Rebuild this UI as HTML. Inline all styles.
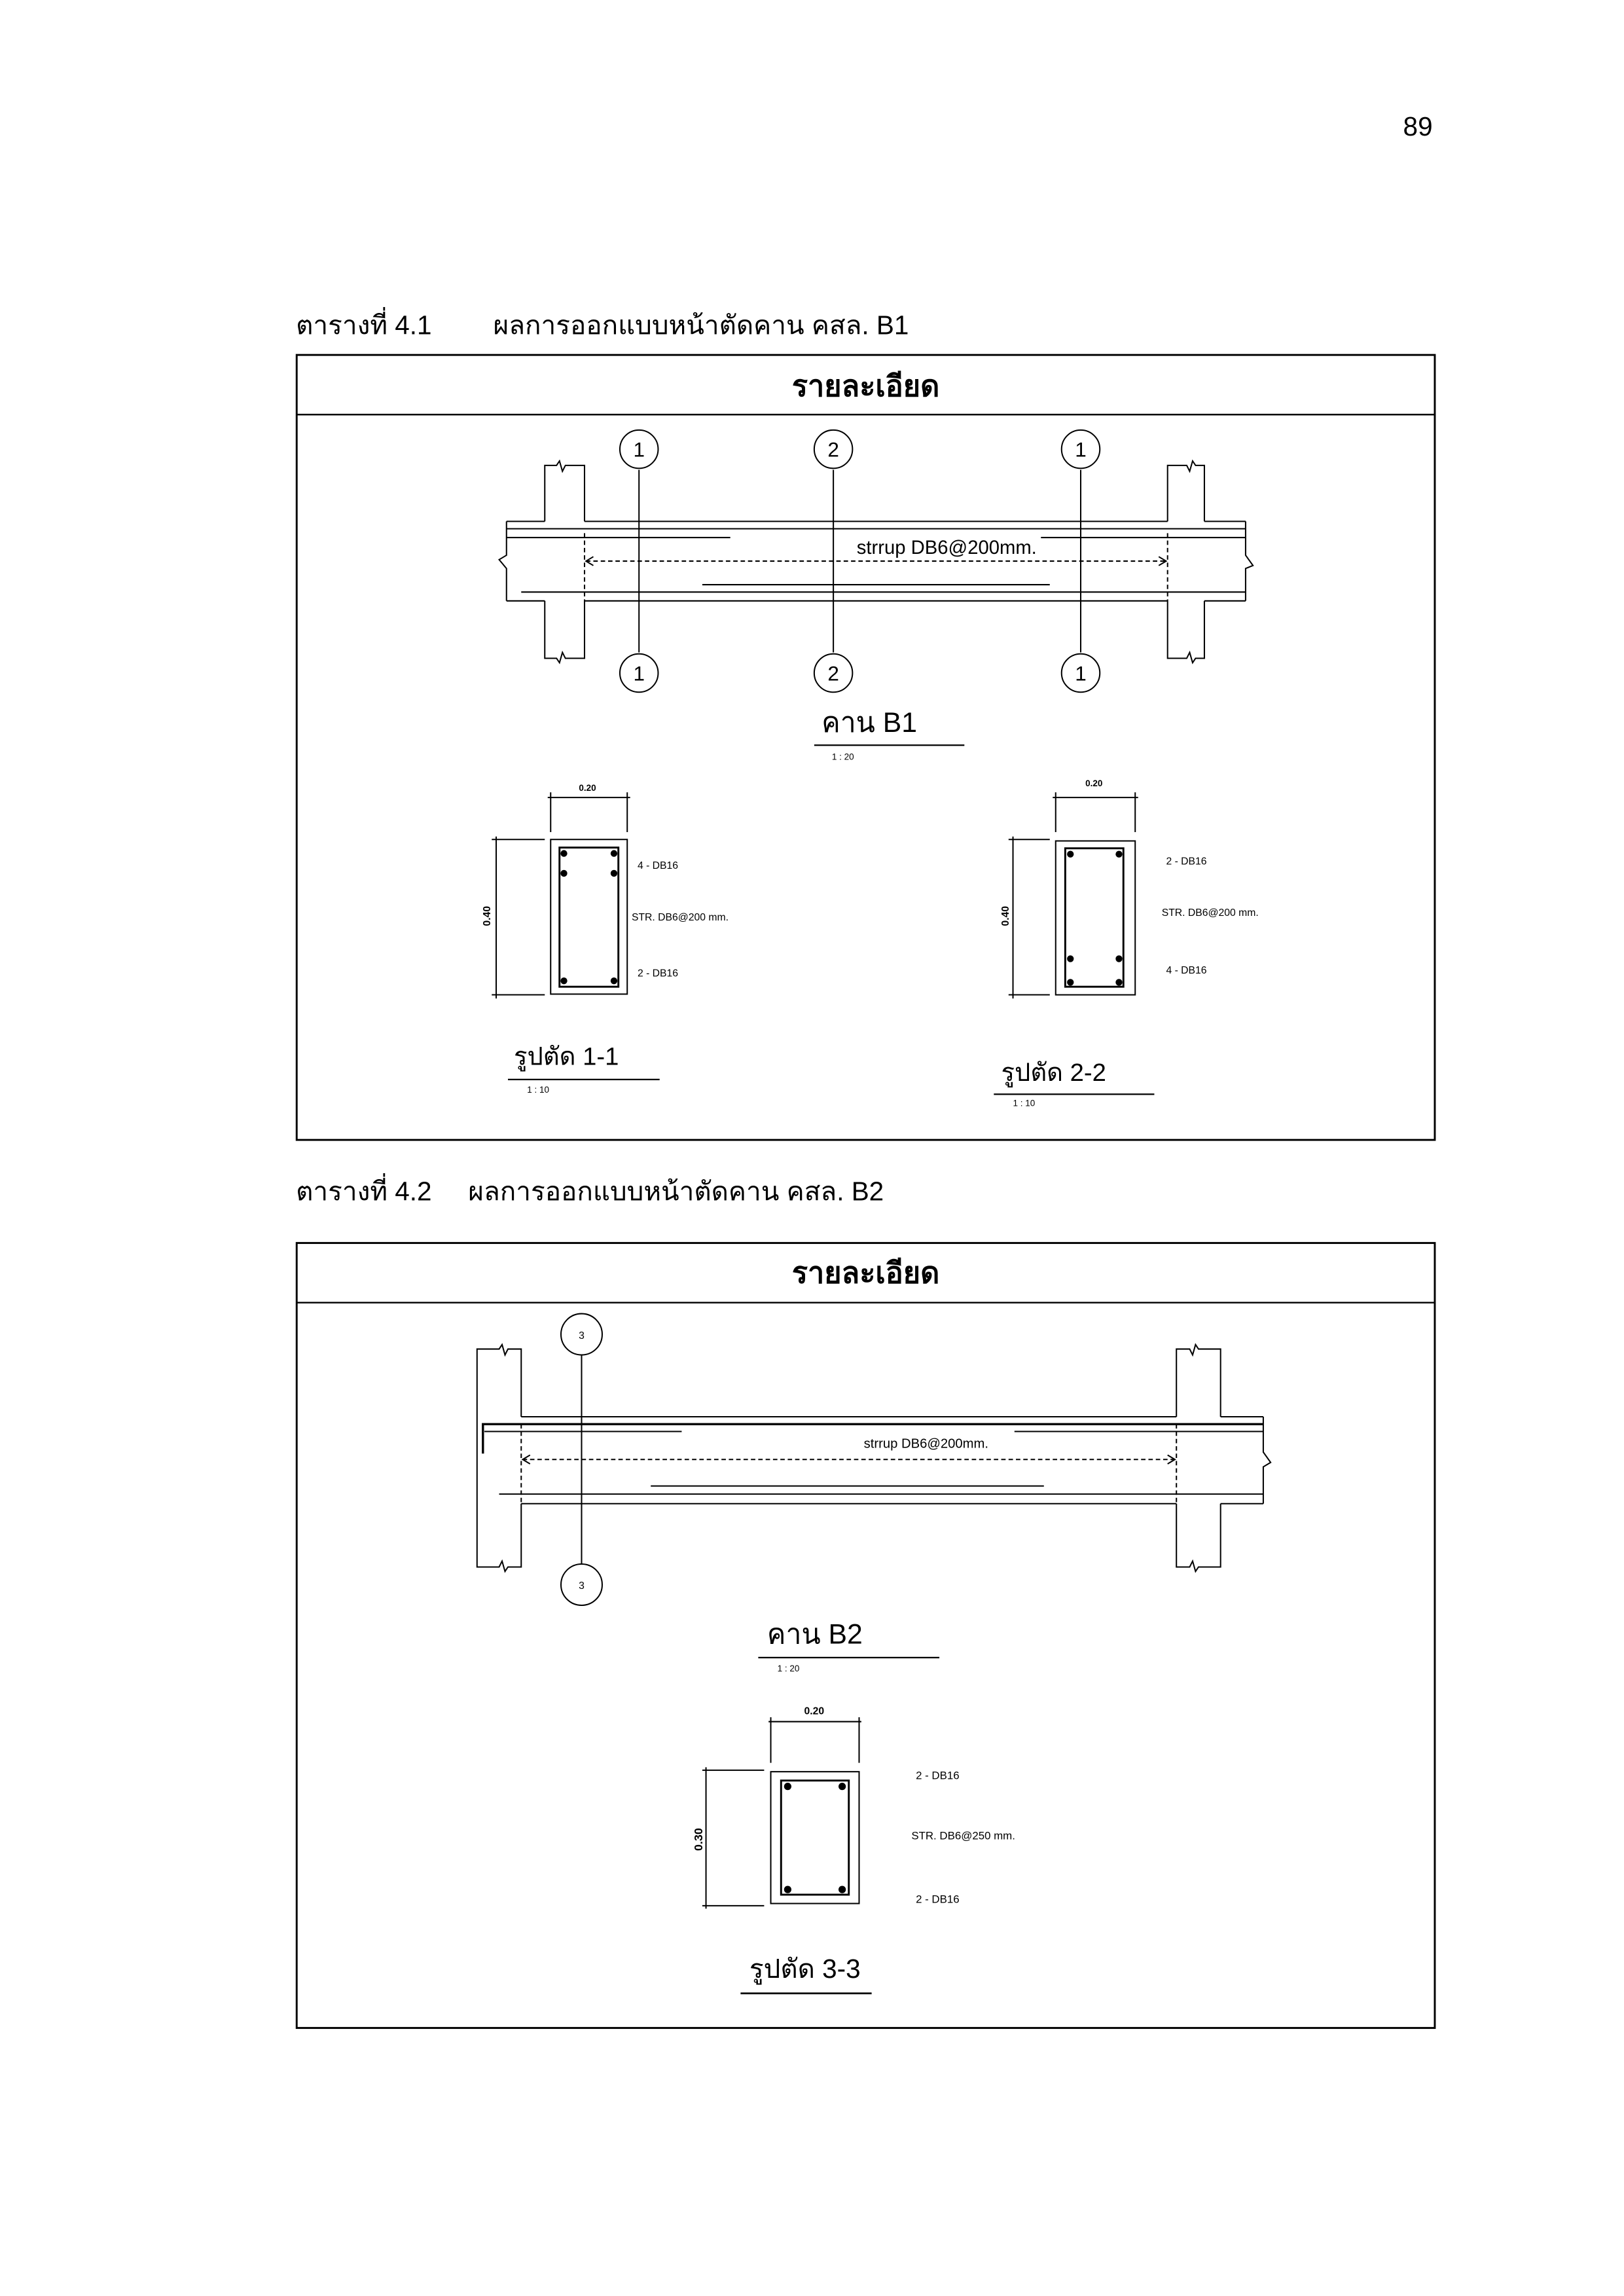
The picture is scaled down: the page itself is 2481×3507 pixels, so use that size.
<!DOCTYPE html>
<html><head><meta charset="utf-8"><style>
html,body{margin:0;padding:0;background:#fff;}
svg{display:block;}
text{font-family:"Liberation Sans","DejaVu Sans","Noto Sans CJK SC",sans-serif;fill:#000;}
</style></head><body>
<svg width="2481" height="3507" viewBox="0 0 1103 1559" preserveAspectRatio="none" xmlns="http://www.w3.org/2000/svg">
<rect width="1103" height="1559" fill="#fff"/>
<text x="973" y="92" font-size="18" text-anchor="end">89</text>

<!-- Table 1 -->
<text x="201" y="227" font-size="18">ตารางที่ 4.1</text>
<text x="335" y="227" font-size="18">ผลการออกแบบหน้าตัดคาน คสล. B1</text>
<rect x="201.5" y="241" width="773" height="533" fill="none" stroke="#000" stroke-width="1.3"/>
<line x1="201" y1="281.5" x2="975" y2="281.5" stroke="#000" stroke-width="1.1"/>
<text x="588" y="269" font-size="20" font-weight="bold" text-anchor="middle">รายละเอียด</text>

<g fill="none" stroke="#000" stroke-width="0.9">
 <polyline points="397,354 397,316 384,316 382,320 380,313 378,316 370,316 370,354"/>
 <polyline points="397,408 397,447 384,447 382,443 380,450 378,447 370,447 370,408"/>
 <polyline points="793,354 793,316 806,316 808,320 810,313 812,316 818,316 818,354"/>
 <polyline points="793,408 793,447 806,447 808,443 810,450 812,447 818,447 818,408"/>
 <line x1="344" y1="354" x2="370" y2="354"/><line x1="397" y1="354" x2="793" y2="354"/><line x1="818" y1="354" x2="846" y2="354"/>
 <line x1="344" y1="408" x2="370" y2="408"/><line x1="397" y1="408" x2="793" y2="408"/><line x1="818" y1="408" x2="846" y2="408"/>
 <polyline points="344,354 344,377 339,380 344,386 344,408"/>
 <polyline points="846,354 846,377 851,384 846,386 846,408"/>
 <line x1="344" y1="359" x2="846" y2="359"/>
 <line x1="344" y1="365" x2="496" y2="365"/>
 <line x1="707" y1="365" x2="846" y2="365"/>
 <line x1="477" y1="397" x2="713" y2="397"/>
 <line x1="354" y1="402" x2="846" y2="402"/>
 <line x1="397" y1="362" x2="397" y2="408" stroke-dasharray="3,2"/>
 <line x1="793" y1="362" x2="793" y2="408" stroke-dasharray="3,2"/>
 <line x1="398" y1="381" x2="792" y2="381" stroke-dasharray="3,2"/>
 <polyline points="403,378 398,381 403,384"/><polyline points="787,378 792,381 787,384"/>
 <line x1="434" y1="319" x2="434" y2="443"/>
 <line x1="566" y1="319" x2="566" y2="443"/>
 <line x1="734" y1="319" x2="734" y2="443"/>
 <circle cx="434" cy="305" r="13"/><circle cx="566" cy="305" r="13"/><circle cx="734" cy="305" r="13"/>
 <circle cx="434" cy="457" r="13"/><circle cx="566" cy="457" r="13"/><circle cx="734" cy="457" r="13"/>
</g>
<g font-size="14" text-anchor="middle">
 <text x="434" y="310">1</text><text x="566" y="310">2</text><text x="734" y="310">1</text>
 <text x="434" y="462">1</text><text x="566" y="462">2</text><text x="734" y="462">1</text>
</g>
<text x="643" y="376" font-size="13" text-anchor="middle">strrup DB6@200mm.</text>
<text x="558" y="497" font-size="19">คาน B1</text>
<line x1="553" y1="506" x2="655" y2="506" stroke="#000" stroke-width="1"/>
<text x="565" y="516" font-size="6">1 : 20</text>

<g fill="none" stroke="#000" stroke-width="0.9">
 <rect x="374" y="570" width="52" height="105"/>
 <rect x="380" y="575.5" width="40" height="94.5" stroke-width="1.3"/>
 <line x1="372" y1="541.5" x2="428" y2="541.5"/>
 <line x1="374" y1="538" x2="374" y2="565"/><line x1="426" y1="538" x2="426" y2="565"/>
 <line x1="337" y1="568" x2="337" y2="678"/>
 <line x1="334" y1="570" x2="370" y2="570"/><line x1="334" y1="675.5" x2="370" y2="675.5"/>
</g>
<g fill="#000">
 <circle cx="383" cy="579.5" r="2.3"/><circle cx="417" cy="579.5" r="2.3"/>
 <circle cx="383" cy="593" r="2.3"/><circle cx="417" cy="593" r="2.3"/>
 <circle cx="383" cy="666" r="2.3"/><circle cx="417" cy="666" r="2.3"/>
</g>
<text x="399" y="537" font-size="6" font-weight="bold" text-anchor="middle">0.20</text>
<text x="0" y="0" font-size="7" font-weight="bold" text-anchor="middle" transform="translate(333,622) rotate(-90)">0.40</text>
<g font-size="7">
 <text x="433" y="590">4 - DB16</text>
 <text x="429" y="625">STR. DB6@200 mm.</text>
 <text x="433" y="663">2 - DB16</text>
</g>
<text x="349" y="723" font-size="17">รูปตัด 1-1</text>
<line x1="345" y1="733" x2="448" y2="733" stroke="#000" stroke-width="1"/>
<text x="358" y="742" font-size="6">1 : 10</text>

<g fill="none" stroke="#000" stroke-width="0.9">
 <rect x="717" y="571" width="54" height="104.5"/>
 <rect x="723.5" y="576" width="39.5" height="94" stroke-width="1.3"/>
 <line x1="715" y1="541.5" x2="773" y2="541.5"/>
 <line x1="717" y1="538" x2="717" y2="565"/><line x1="771" y1="538" x2="771" y2="565"/>
 <line x1="688" y1="568" x2="688" y2="678"/>
 <line x1="685" y1="570" x2="713" y2="570"/><line x1="685" y1="675.5" x2="713" y2="675.5"/>
</g>
<g fill="#000">
 <circle cx="727" cy="580" r="2.3"/><circle cx="760" cy="580" r="2.3"/>
 <circle cx="727" cy="651" r="2.3"/><circle cx="760" cy="651" r="2.3"/>
 <circle cx="727" cy="667" r="2.3"/><circle cx="760" cy="667" r="2.3"/>
</g>
<text x="743" y="534" font-size="6" font-weight="bold" text-anchor="middle">0.20</text>
<text x="0" y="0" font-size="7" font-weight="bold" text-anchor="middle" transform="translate(685,622) rotate(-90)">0.40</text>
<g font-size="7">
 <text x="792" y="587">2 - DB16</text>
 <text x="789" y="622">STR. DB6@200 mm.</text>
 <text x="792" y="661">4 - DB16</text>
</g>
<text x="680" y="734" font-size="17">รูปตัด 2-2</text>
<line x1="675" y1="743" x2="784" y2="743" stroke="#000" stroke-width="1"/>
<text x="688" y="751" font-size="6">1 : 10</text>

<!-- Table 2 -->
<text x="201" y="815" font-size="18">ตารางที่ 4.2</text>
<text x="318" y="815" font-size="18">ผลการออกแบบหน้าตัดคาน คสล. B2</text>
<rect x="201.5" y="844" width="773" height="533" fill="none" stroke="#000" stroke-width="1.3"/>
<line x1="201" y1="884.5" x2="975" y2="884.5" stroke="#000" stroke-width="1.1"/>
<text x="588" y="871" font-size="20" font-weight="bold" text-anchor="middle">รายละเอียด</text>

<g fill="none" stroke="#000" stroke-width="0.9">
 <polyline points="354,962 354,916 345,916 343,920 341,913 339,916 324,916 324,1064 339,1064 341,1060 343,1067 345,1064 354,1064 354,1021"/>
 <polyline points="799,962 799,916 808,916 810,920 812,913 814,916 829,916 829,962"/>
 <polyline points="799,1021 799,1064 808,1064 810,1060 812,1067 814,1064 829,1064 829,1021"/>
 <line x1="354" y1="962" x2="799" y2="962"/><line x1="829" y1="962" x2="858" y2="962"/>
 <line x1="354" y1="1021" x2="799" y2="1021"/><line x1="829" y1="1021" x2="858" y2="1021"/>
 <polyline points="858,962 858,986 863,993 858,996 858,1021"/>
 <polyline points="328,987 328,967 858,967" stroke-width="1.5"/>
 <line x1="329" y1="972" x2="463" y2="972"/>
 <line x1="689" y1="972" x2="858" y2="972"/>
 <line x1="442" y1="1009" x2="709" y2="1009"/>
 <line x1="339" y1="1014.5" x2="858" y2="1014.5"/>
 <line x1="354" y1="967" x2="354" y2="1021" stroke-dasharray="3,2"/>
 <line x1="799" y1="967" x2="799" y2="1021" stroke-dasharray="3,2"/>
 <line x1="355" y1="991" x2="798" y2="991" stroke-dasharray="3,2"/>
 <polyline points="360,988 355,991 360,994"/><polyline points="793,988 798,991 793,994"/>
 <line x1="395" y1="920" x2="395" y2="1062"/>
 <circle cx="395" cy="906" r="14"/><circle cx="395" cy="1076" r="14"/>
</g>
<text x="395" y="909" font-size="7" text-anchor="middle">3</text>
<text x="395" y="1079" font-size="7" text-anchor="middle">3</text>
<text x="629" y="983" font-size="9" text-anchor="middle">strrup DB6@200mm.</text>
<text x="521" y="1116" font-size="19">คาน B2</text>
<line x1="515" y1="1125.5" x2="638" y2="1125.5" stroke="#000" stroke-width="1"/>
<text x="528" y="1135" font-size="6">1 : 20</text>

<g fill="none" stroke="#000" stroke-width="0.9">
 <rect x="523.5" y="1203" width="60" height="89.5"/>
 <rect x="530.5" y="1209" width="46" height="77.5" stroke-width="1.3"/>
 <line x1="522" y1="1169" x2="585" y2="1169"/>
 <line x1="523.5" y1="1166" x2="523.5" y2="1197"/><line x1="583.5" y1="1166" x2="583.5" y2="1197"/>
 <line x1="479.5" y1="1200" x2="479.5" y2="1296"/>
 <line x1="477" y1="1202" x2="519" y2="1202"/><line x1="477" y1="1294" x2="519" y2="1294"/>
</g>
<g fill="#000">
 <circle cx="535" cy="1213" r="2.5"/><circle cx="572" cy="1213" r="2.5"/>
 <circle cx="535" cy="1283" r="2.5"/><circle cx="572" cy="1283" r="2.5"/>
</g>
<text x="553" y="1164" font-size="7" font-weight="bold" text-anchor="middle">0.20</text>
<text x="0" y="0" font-size="8" font-weight="bold" text-anchor="middle" transform="translate(477,1249) rotate(-90)">0.30</text>
<g font-size="7.5">
 <text x="622" y="1208">2 - DB16</text>
 <text x="619" y="1249">STR. DB6@250 mm.</text>
 <text x="622" y="1292">2 - DB16</text>
</g>
<text x="509" y="1343" font-size="18">รูปตัด 3-3</text>
<line x1="503" y1="1353.5" x2="592" y2="1353.5" stroke="#000" stroke-width="1.2"/>
</svg>
</body></html>
